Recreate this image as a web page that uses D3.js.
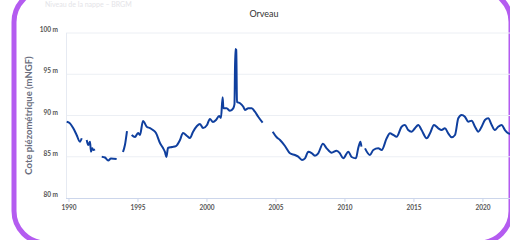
<!DOCTYPE html>
<html>
<head>
<meta charset="utf-8">
<script src="https://cdn.jsdelivr.net/npm/d3@7"></script>
<style>
  html, body { margin: 0; padding: 0; background: #fff; }
  svg { display: block; font-family: "Lato", "Open Sans", sans-serif; }
</style>
</head>
<body>
<div id="container"></div>
<script>
const width = 510;
const height = 240;

// data (null = gap in the record)
const years = [
  1989.87, 1990.11, 1990.35, 1990.59, 1990.83, 1990.96, null,
  1991.32, 1991.43, 1991.56, 1991.63, 1991.72, 1991.80, 1991.92, null,
  1992.41, 1992.64, 1992.88, 1993.08, 1993.49, null,
  1993.95, 1994.09, 1994.24, null,
  1994.58, 1994.82, 1995.04, 1995.18, 1995.40, 1995.69, 1995.91, 1996.12, 1996.34, 1996.63,
  1996.85, 1996.99, 1997.10, 1997.21, 1997.50, 1997.79, 1998.08, 1998.30, 1998.59, 1998.80,
  1999.02, 1999.31, 1999.53, 1999.75, 2000.04, 2000.25, 2000.47, 2000.69, 2000.91, 2001.05,
  2001.17, 2001.23, 2001.46, 2001.70, 2001.94, 2002.03, 2002.09, 2002.16, 2002.21, 2002.43,
  2002.67, 2002.79, 2003.03, 2003.28, 2003.51, 2003.75, 2004.07, null,
  2004.80, 2005.09, 2005.33, 2005.69, 2006.05, 2006.41, 2006.65, 2006.92, 2007.14, 2007.38,
  2007.62, 2007.86, 2008.10, 2008.44, 2008.71, 2009.07, 2009.43, 2009.67, 2009.91, 2010.28,
  2010.52, 2010.83, 2011.00, 2011.16, 2011.23, null,
  2011.49, 2011.85, 2012.09, 2012.45, 2012.70, 2013.06, 2013.30, 2013.54, 2013.78, 2014.14,
  2014.38, 2014.62, 2014.87, 2015.11, 2015.35, 2015.59, 2015.96, 2016.20, 2016.49, 2016.80,
  2017.04, 2017.28, 2017.52, 2017.77, 2018.01, 2018.25, 2018.49, 2018.73, 2018.97, 2019.22,
  2019.46, 2019.70, 2019.94, 2020.18, 2020.42, 2020.67, 2020.90, 2021.14, 2021.39, 2021.63,
  2021.88, 2022.07
];
const levels = [
  89.25, 89.05, 88.45, 87.64, 86.82, 87.24, null,
  87.03, 86.42, 86.82, 85.61, 86.02, 85.82, 85.90, null,
  85.01, 84.91, 84.55, 84.79, 84.73, null,
  85.58, 86.42, 88.12, null,
  87.64, 87.39, 87.88, 87.64, 89.33, 88.61, 88.48, 88.24, 87.88, 86.67,
  86.06, 85.58, 84.97, 86.06, 86.18, 86.30, 87.03, 87.88, 87.52, 87.27,
  88.00, 88.73, 88.97, 88.48, 88.85, 89.58, 89.21, 89.45, 89.94, 89.70,
  92.21, 90.87, 90.87, 90.58, 90.87, 91.39, 98.06, 97.94, 91.67, 91.48,
  91.07, 90.67, 90.87, 90.87, 90.46, 89.85, 89.13, null,
  88.04, 87.36, 87.03, 86.30, 85.42, 85.21, 85.01, 84.61, 84.81, 85.61,
  85.45, 85.13, 85.42, 86.57, 86.02, 85.49, 85.73, 85.42, 84.81, 85.61,
  84.97, 84.81, 86.06, 86.82, 86.22, null,
  86.02, 85.21, 85.82, 86.02, 85.82, 87.24, 87.84, 87.64, 87.43, 88.64,
  88.85, 88.24, 88.04, 88.45, 88.85, 88.24, 87.24, 87.84, 88.85, 88.45,
  88.24, 88.45, 87.84, 87.36, 87.64, 89.66, 90.06, 89.85, 89.25, 89.37,
  88.64, 88.04, 88.64, 89.45, 89.66, 88.85, 88.24, 88.64, 88.85, 88.24,
  87.84, 87.76
];
const yTicks = [80, 85, 90, 95, 100];
const xTicks = [1990, 1995, 2000, 2005, 2010, 2015, 2020];
const title = "Orveau";
const yTitle = "Cote piézométrique (mNGF)";

const points = years.map((y, i) => ({year: y, level: levels[i]}));

const svg = d3.select("div#container")
    .append("svg")
    .attr("width", width)
    .attr("height", height)
    .attr("viewBox", [0, 0, width, height]);

// purple card frame, partly cut off by the window
svg.append("rect")
    .attr("x", 14).attr("y", -10)
    .attr("width", 497).attr("height", 253)
    .attr("rx", 32)
    .attr("fill", "none")
    .attr("stroke", "#b45cf0")
    .attr("stroke-width", 5);

// faint header text at the top of the card
svg.append("text")
    .attr("x", 45).attr("y", 7)
    .attr("font-size", 7)
    .attr("fill", "#e4e4e8")
    .text("Niveau de la nappe – BRGM");

const x = d3.scaleLinear()
    .domain([1989.82, 2022.07])
    .range([66, 511]);

const y = d3.scaleLinear()
    .domain([80, 100])
    .range([198, 33]);

// grid
svg.append("g")
    .selectAll("line")
    .data(yTicks.slice(1))
    .join("line")
    .attr("x1", 66).attr("x2", 511)
    .attr("y1", d => y(d)).attr("y2", d => y(d))
    .attr("stroke", "#eceff4")
    .attr("stroke-width", 1);

// left axis line
svg.append("line")
    .attr("x1", 66.5).attr("x2", 66.5)
    .attr("y1", y(100)).attr("y2", y(80))
    .attr("stroke", "#e6eaf2");

// y tick labels
svg.append("g")
    .selectAll("text")
    .data(yTicks)
    .join("text")
    .attr("x", 58)
    .attr("y", d => y(d) - 1)
    .attr("text-anchor", "end")
    .attr("font-size", 6.5)
    .attr("font-weight", 700)
    .attr("fill", "#555")
    .text(d => `${d} m`);

// x axis
const xAxis = svg.append("g")
    .attr("transform", `translate(0,${y(80)})`)
    .call(d3.axisBottom(x).tickValues(xTicks).tickFormat(d3.format("d")).tickSize(4).tickPadding(3))
    .call(g => g.select(".domain").attr("stroke", "#ccd6eb").attr("d", `M66,0.5H511`));

xAxis.selectAll(".tick line").attr("stroke", "#ccd6eb");
xAxis.selectAll(".tick text")
    .attr("font-size", 6.5)
    .attr("font-weight", 700)
    .attr("font-family", "Lato, sans-serif")
    .attr("fill", "#555");

// y title
svg.append("text")
    .attr("transform", `translate(32,${(y(80) + y(100)) / 2}) rotate(-90)`)
    .attr("text-anchor", "middle")
    .attr("font-size", 9.5)
    .attr("font-weight", 700)
    .attr("fill", "#6b6f80")
    .text(yTitle);

// chart title
svg.append("text")
    .attr("x", 264).attr("y", 17)
    .attr("text-anchor", "middle")
    .attr("font-size", 9)
    .attr("fill", "#333")
    .text(title);

const line = d3.line()
    .defined(d => d.year != null && d.level != null)
    .x(d => x(d.year))
    .y(d => y(d.level))
    .curve(d3.curveMonotoneX);

svg.append("path")
    .datum(points)
    .attr("fill", "none")
    .attr("stroke", "#0f3f9e")
    .attr("stroke-width", 2)
    .attr("stroke-linejoin", "round")
    .attr("d", line);
</script>
</body>
</html>
